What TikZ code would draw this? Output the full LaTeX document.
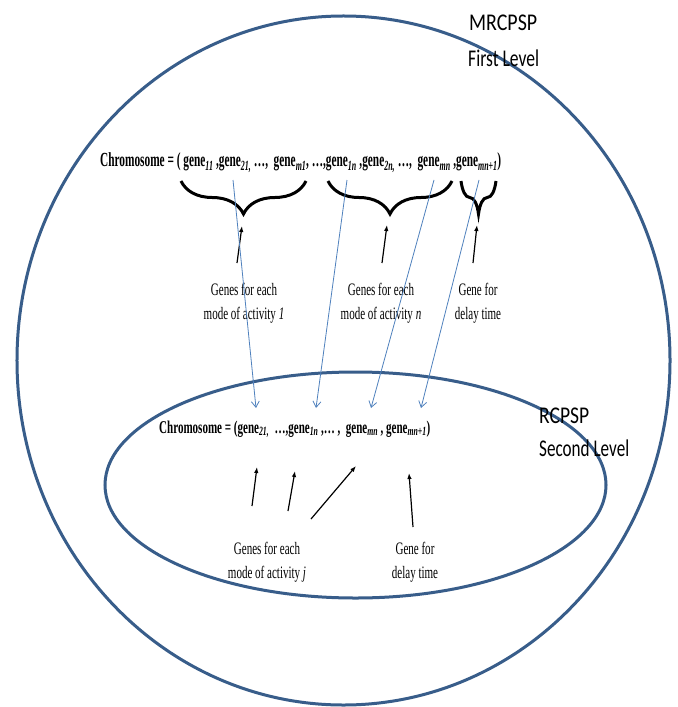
\documentclass[tikz,border=0pt]{standalone}
\usepackage{fontspec}
\setmainfont{Liberation Serif}
\newfontfamily\calib{Carlito}
\newfontfamily\lblfont[FakeStretch=0.63]{Liberation Serif}
\usetikzlibrary{shapes.geometric,decorations.pathreplacing,arrows.meta}
\definecolor{ringblue}{HTML}{385D8A}
\definecolor{linkblue}{HTML}{4F81BD}
\newcommand{\gsub}[1]{\textsubscript{\itshape #1}}
\begin{document}
\begin{tikzpicture}[x=1bp,y=-1bp,
  ring/.style={draw=ringblue, line width=3bp, ellipse, inner sep=0pt},
  bracemark/.style={decorate, decoration={brace, amplitude=33bp, mirror}, line width=3bp},
  blk/.style={draw=black, line width=1.2bp, -{Latex[length=6bp,width=4.5bp]}},
  bluelink/.style={draw=linkblue, line width=0.8bp, -{Straight Barb[length=6bp,width=8bp]}},
  lbl/.style={font={\lblfont\fontsize{17.5bp}{24bp}\selectfont}, align=center, anchor=base, inner sep=0pt},
  txt/.style={anchor=base west, inner sep=0pt}]
\useasboundingbox (0,0) rectangle (678,707);
\fill[white] (0,0) rectangle (678,707);

% ellipses
\node[ring, minimum width=653bp, minimum height=689bp] (outer) at (343.5,360.5) {};
\node[ring, minimum width=501bp, minimum height=226bp] (inner) at (355.5,485) {};

% level titles
\node[txt] (mr) at (469,31) {\calib\fontsize{24bp}{28bp}\selectfont\resizebox{68bp}{\height}{MRCPSP}};
\node[txt] (fl) at (468,67) {\calib\fontsize{24bp}{28bp}\selectfont\resizebox{71bp}{\height}{First Level}};
\node[txt] (rc) at (539,423) {\calib\fontsize{24bp}{28bp}\selectfont\resizebox{50bp}{\height}{RCPSP}};
\node[txt] (sl) at (539,456) {\calib\fontsize{24bp}{28bp}\selectfont\resizebox{90bp}{\height}{Second Level}};

% chromosomes
\node[txt] (chromA) at (100,167) {\fontsize{20bp}{23bp}\selectfont\resizebox{401bp}{\height}{\bfseries Chromosome = ( gene\gsub{11} ,gene\gsub{21,} …,\ \ gene\gsub{m1}, …,gene\gsub{1n} ,gene\gsub{2n,} …,\ \ gene\gsub{mn} ,gene\gsub{mn+1})}};
\node[txt] (chromB) at (159,433) {\fontsize{18bp}{21bp}\selectfont\resizebox{271bp}{\height}{\bfseries Chromosome = (gene\gsub{21,}\ \ …,gene\gsub{1n} ,… ,\ \ gene\gsub{mn} , gene\gsub{mn+1})}};

% braces
\coordinate (brA1) at (181,181); \coordinate (brA2) at (306,181);
\coordinate (brB1) at (328,181); \coordinate (brB2) at (452,181);
\coordinate (brC1) at (461,181); \coordinate (brC2) at (496,181);
\draw[bracemark] (brA1) -- (brA2);
\draw[bracemark] (brB1) -- (brB2);
\draw[bracemark] (brC1) -- (brC2);

% top labels (base anchor = baseline of last line)
\node[lbl] (labA) at (244,319) {Genes for each\\mode of activity \textit{1}};
\node[lbl] (labB) at (381,319) {Genes for each\\mode of activity \textit{n}};
\node[lbl] (labC) at (478,319) {Gene for\\delay time};

% bottom labels
\node[lbl] (labD) at (267,578) {Genes for each\\mode of activity \textit{j}};
\node[lbl] (labE) at (415,578) {Gene for\\delay time};

% black arrows, first level
\coordinate (ta1) at (237,263); \coordinate (ta2) at (242,226);
\coordinate (tb1) at (382,263); \coordinate (tb2) at (387,225);
\coordinate (tc1) at (473,263); \coordinate (tc2) at (477,225);
\draw[blk] (ta1) -- (ta2);
\draw[blk] (tb1) -- (tb2);
\draw[blk] (tc1) -- (tc2);

% black arrows, second level
\coordinate (sa1) at (252,506); \coordinate (sa2) at (257,467);
\coordinate (sb1) at (288,511); \coordinate (sb2) at (295,471);
\coordinate (sc1) at (311,519); \coordinate (sc2) at (356,466);
\coordinate (sd1) at (413,527); \coordinate (sd2) at (409,473);
\draw[blk] (sa1) -- (sa2);
\draw[blk] (sb1) -- (sb2);
\draw[blk] (sc1) -- (sc2);
\draw[blk] (sd1) -- (sd2);

% blue links
\coordinate (ba1) at (233,180); \coordinate (ba2) at (256,408);
\coordinate (bb1) at (347,180); \coordinate (bb2) at (316,408);
\coordinate (bc1) at (434,180); \coordinate (bc2) at (371,408);
\coordinate (bd1) at (479,180); \coordinate (bd2) at (421,408);
\draw[bluelink] (ba1) -- (ba2);
\draw[bluelink] (bb1) -- (bb2);
\draw[bluelink] (bc1) -- (bc2);
\draw[bluelink] (bd1) -- (bd2);
\end{tikzpicture}
\end{document}
